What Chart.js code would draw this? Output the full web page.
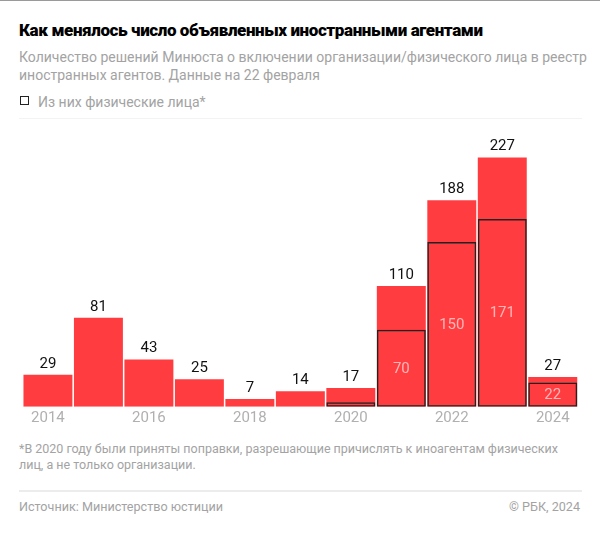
<!DOCTYPE html>
<html>
<head>
<meta charset="utf-8">
<script src="https://cdn.jsdelivr.net/npm/chart.js@4/dist/chart.umd.min.js"></script>
<style>
  html, body { margin: 0; padding: 0; background: #fff; }
  body { width: 600px; height: 535px; position: relative; overflow: hidden; font-family: Roboto, "Noto Sans", sans-serif; }
  .topline { position: absolute; left: 0; top: 0; width: 600px; height: 1px; background: #9a9a9a; }
  .title { position: absolute; left: 19px; top: 20px; font-size: 17px; font-weight: 900; color: #000; line-height: 20px; white-space: nowrap; letter-spacing: -0.4px; }
  .subtitle { position: absolute; left: 19px; top: 48px; font-size: 14px; color: #a3a3a3; line-height: 18px; white-space: nowrap; }
  .legend { position: absolute; left: 20px; top: 95px; font-size: 14px; color: #a3a3a3; line-height: 14px; white-space: nowrap; }
  .legend .sq { position: absolute; left: 0; top: 1px; width: 7px; height: 7px; border: 1.5px solid #222; }
  .legend .lt { position: absolute; left: 18px; top: 0; }
  .sep1 { position: absolute; left: 19px; top: 118px; width: 563px; height: 1px; background: #f3f3f3; }
  #wrap { position: absolute; left: 0; top: 130px; width: 600px; height: 300px; }
  .foot { position: absolute; left: 19px; top: 441px; font-size: 12.5px; color: #a3a3a3; line-height: 16px; white-space: nowrap; }
  .sep2 { position: absolute; left: 19px; top: 490px; width: 563px; height: 1.5px; background: #ececec; }
  .src { position: absolute; left: 19px; top: 500px; font-size: 12.6px; color: #a3a3a3; line-height: 14px; white-space: nowrap; }
  .copy { position: absolute; right: 20px; top: 500px; font-size: 12.6px; color: #a3a3a3; line-height: 14px; white-space: nowrap; }
</style>
</head>
<body>
<div class="topline"></div>
<div class="title">Как менялось число объявленных иностранными агентами</div>
<div class="subtitle">Количество решений Минюста о включении организации/физического лица в реестр<br>иностранных агентов. Данные на 22 февраля</div>
<div class="legend"><span class="sq"></span><span class="lt">Из них физические лица*</span></div>
<div class="sep1"></div>
<div id="wrap"><canvas id="c" width="600" height="300"></canvas></div>
<div class="foot">*В 2020 году были приняты поправки, разрешающие причислять к иноагентам физических<br>лиц, а не только организации.</div>
<div class="sep2"></div>
<div class="src">Источник: Министерство юстиции</div>
<div class="copy">© РБК, 2024</div>
<script>
const years = ['2014','2015','2016','2017','2018','2019','2020','2021','2022','2023','2024'];
const totals = [29, 81, 43, 25, 7, 14, 17, 110, 188, 227, 27];
const individuals = [null, null, null, null, null, null, 4, 70, 150, 171, 22];

const RED = '#FF3D40';

const labelPlugin = {
  id: 'valueLabels',
  afterDatasetsDraw(chart) {
    const ctx = chart.ctx;
    ctx.save();
    ctx.font = '15px Roboto, "Noto Sans", sans-serif';
    ctx.textAlign = 'center';
    ctx.textBaseline = 'middle';
    const mTot = chart.getDatasetMeta(1);
    mTot.data.forEach((bar, i) => {
      const v = totals[i];
      if (v == null) return;
      ctx.fillStyle = '#111';
      ctx.fillText(String(v), bar.x, bar.y - 11);
    });
    const mInd = chart.getDatasetMeta(0);
    mInd.data.forEach((bar, i) => {
      const v = individuals[i];
      if (v == null || v < 10) return;
      ctx.fillStyle = 'rgba(255,255,255,0.62)';
      ctx.fillText(String(v), bar.x, (bar.y + bar.base) / 2 + 0.5);
    });
    ctx.restore();
  }
};

new Chart(document.getElementById('c'), {
  type: 'bar',
  data: {
    labels: years,
    datasets: [
      {
        label: 'Из них физические лица*',
        data: individuals,
        backgroundColor: 'rgba(0,0,0,0)',
        borderColor: '#222',
        borderWidth: 1.5,
        borderSkipped: false,
        barPercentage: 0.97,
        categoryPercentage: 1
      },
      {
        label: 'Всего',
        data: totals,
        backgroundColor: RED,
        borderWidth: 0,
        barPercentage: 0.97,
        categoryPercentage: 1
      }
    ]
  },
  options: {
    responsive: false,
    devicePixelRatio: 1,
    animation: false,
    layout: { padding: { left: 22.7, right: 22, top: 0, bottom: 0 } },
    plugins: { legend: { display: false }, tooltip: { enabled: false } },
    scales: {
      x: {
        stacked: true,
        grid: { display: false, drawTicks: false },
        border: { display: false },
        ticks: {
          autoSkip: false,
          maxRotation: 0,
          padding: 3,
          color: '#b0b0b0',
          font: { family: 'Roboto, "Noto Sans", sans-serif', size: 15 },
          callback: function(val, idx) { return idx % 2 === 0 ? years[idx] : ''; }
        },
        afterFit: function(scale) { scale.height = 23.3; }
      },
      y: {
        stacked: false,
        display: false,
        min: 0,
        max: 252
      }
    }
  },
  plugins: [labelPlugin]
});
</script>
</body>
</html>
